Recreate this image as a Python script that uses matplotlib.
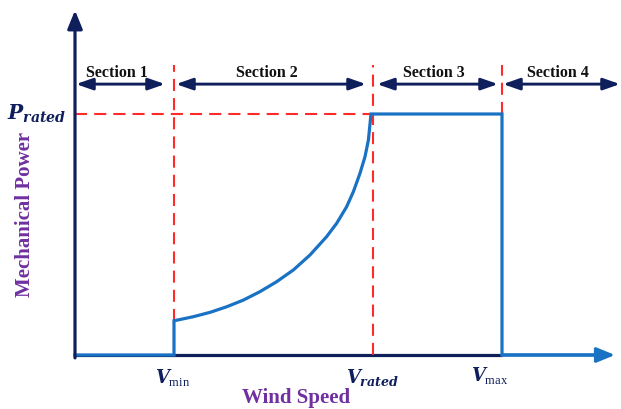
import matplotlib.pyplot as plt

# Kennlinie (schematisch): Windgeschwindigkeit vs. mechanische Leistung
v_min = 4.95
v_rated = 14.9
v_max = 21.35
v_end = 27.0
p_rated = 1.0

wind = [0, 4.95, 4.95, 5.92, 6.75, 7.58, 8.42, 9.25, 10.08, 10.92, 11.75, 12.58,
        13.08, 13.58, 13.92, 14.25, 14.5, 14.67, 14.8, 21.35, 21.35, 26.4]
power = [0, 0, 0.142, 0.159, 0.177, 0.200, 0.228, 0.263, 0.304, 0.353, 0.415, 0.491,
         0.546, 0.615, 0.678, 0.754, 0.823, 0.892, 1.0, 1.0, 0, 0]

section_names = ['Section 1', 'Section 2', 'Section 3', 'Section 4']
section_bounds = [(0.05, 4.5), (5.05, 14.55), (15.1, 21.15), (21.4, 27.25)]

navy = '#0f1f5c'
blue = '#1a72c4'
red = '#ff2a2a'
purple = '#7030a0'

plt.rcParams['mathtext.fontset'] = 'custom'
plt.rcParams['mathtext.it'] = 'DejaVu Serif:italic:bold'
plt.rcParams['mathtext.rm'] = 'Liberation Serif'
plt.rcParams['mathtext.bf'] = 'Liberation Serif:bold'

fig = plt.figure(figsize=(6.21, 4.09), dpi=100)
ax = fig.add_axes([0, 0, 1, 1])
ax.set_xlim(-3.75, 27.3)
ax.set_ylim(-0.224, 1.473)
ax.axis('off')

# Achsen mit Pfeilen
ax.annotate('', xy=(0, 1.43), xytext=(0, -0.012),
            arrowprops=dict(arrowstyle='-|>,head_length=1.1,head_width=0.45',
                            color=navy, lw=2.3, shrinkA=0, shrinkB=0))
ax.plot([0, v_max], [0, 0], color=navy, lw=2.3, solid_capstyle='butt')
ax.annotate('', xy=(v_end, 0), xytext=(v_max, 0),
            arrowprops=dict(arrowstyle='-|>,head_length=1.1,head_width=0.45',
                            color=blue, lw=2.3, shrinkA=0, shrinkB=0))

# gestrichelte Hilfslinien
dash = dict(color=red, lw=1.5, dashes=(5.8, 3.4))
top = 1.203
ax.plot([v_min, v_min], [power[2], top], **dash)
ax.plot([v_rated, v_rated], [0, top], **dash)
ax.plot([v_max, v_max], [p_rated, top], **dash)
ax.plot([0, 14.8], [p_rated, p_rated], **dash)

# Leistungskurve
ax.plot(wind, power, color=blue, lw=2.3, solid_joinstyle='miter')

# Abschnitte
for name, (a, b) in zip(section_names, section_bounds):
    ax.annotate('', xy=(b, 1.124), xytext=(a, 1.124),
                arrowprops=dict(arrowstyle='<|-|>,head_length=1.0,head_width=0.35',
                                color=navy, lw=2.1, shrinkA=0, shrinkB=0))
    ax.text((a + b) / 2 - 0.2, 1.172, name, ha='center', va='center',
            family='Liberation Serif', fontweight='bold', fontsize=11.5, color='#111111')

# Beschriftungen
ax.text(-3.4, p_rated, r'$P_{rated}$', ha='left', va='center', fontsize=14.5, color=navy)
ax.text(v_min - 0.05, -0.095, r'$V_{\mathrm{min}}$', ha='center', va='center', fontsize=13, color=navy)
ax.text(v_rated, -0.095, r'$V_{rated}$', ha='center', va='center', fontsize=13, color=navy)
ax.text(v_max - 0.6, -0.085, r'$V_{\mathrm{max}}$', ha='center', va='center', fontsize=13, color=navy)

ax.text(11.05, -0.178, 'Wind Speed', ha='center', va='center', family='Liberation Serif',
        fontweight='bold', fontsize=15, color=purple)
ax.text(-2.5, 0.585, 'Mechanical Power', ha='center', va='center', rotation=90,
        family='Liberation Serif', fontweight='bold', fontsize=15, color=purple)

plt.savefig('out.png', dpi=100)
